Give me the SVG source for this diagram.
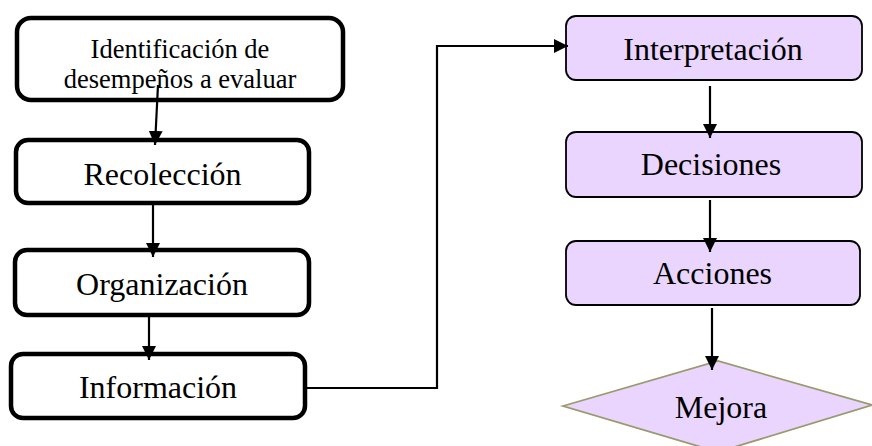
<svg xmlns="http://www.w3.org/2000/svg" width="872" height="446" viewBox="0 0 872 446">
<style>
.lb{fill:#fff;stroke:#000;stroke-width:4.5}
.rb{fill:#E9D5FE;stroke:#000;stroke-width:1.8}
.dm{fill:#E9D5FE;stroke:#9A9A6E;stroke-width:1.8}
.t{font-family:"Liberation Serif","Times New Roman",serif;fill:#000;text-anchor:middle}
.c{fill:none;stroke:#000;stroke-width:2.2}
</style>
<defs>
<marker id="ah" viewBox="0 0 14 14" refX="14" refY="7" markerWidth="14" markerHeight="14" markerUnits="userSpaceOnUse" orient="auto">
<path d="M0,0 L14,7 L0,14 z" fill="#000"/>
</marker>
</defs>
<rect width="872" height="446" fill="#fff"/>
<g id="n1">
<rect class="lb" x="17" y="18" width="326" height="82" rx="14"/>
<text class="t" x="180" y="58" font-size="26.5">Identificación de</text>
<text class="t" x="180" y="88" font-size="26.5">desempeños a evaluar</text>
</g>
<g id="n2">
<rect class="lb" x="16" y="140" width="293" height="63" rx="12"/>
<text class="t" x="162.5" y="185" font-size="32">Recolección</text>
</g>
<g id="n3">
<rect class="lb" x="15" y="250" width="294" height="65" rx="12"/>
<text class="t" x="162" y="295" font-size="32">Organización</text>
</g>
<g id="n4">
<rect class="lb" x="11" y="354" width="294" height="64" rx="12"/>
<text class="t" x="158" y="398" font-size="32">Información</text>
</g>
<g id="n5">
<rect class="rb" x="566" y="16" width="296" height="64" rx="10"/>
<text class="t" x="713" y="60" font-size="32">Interpretación</text>
</g>
<g id="n6">
<rect class="rb" x="566" y="132" width="296" height="65" rx="10"/>
<text class="t" x="711" y="175" font-size="32">Decisiones</text>
</g>
<g id="n7">
<rect class="rb" x="566" y="241" width="294" height="64" rx="10"/>
<text class="t" x="712.5" y="284" font-size="32">Acciones</text>
</g>
<g id="n8">
<polygon class="dm" points="563,406 718,361 872,405 718,452"/>
<text class="t" x="721" y="418" font-size="32">Mejora</text>
</g>
<g id="connectors">
<path class="c" d="M158,85 L155,145" marker-end="url(#ah)"/>
<path class="c" d="M153,203 V257" marker-end="url(#ah)"/>
<path class="c" d="M149,315 V360" marker-end="url(#ah)"/>
<path class="c" d="M305,388 H437 V46 H568" marker-end="url(#ah)"/>
<path class="c" d="M710,86 V138" marker-end="url(#ah)"/>
<path class="c" d="M710,200 V252" marker-end="url(#ah)"/>
<path class="c" d="M712,308 V370" marker-end="url(#ah)"/>
</g>
</svg>
